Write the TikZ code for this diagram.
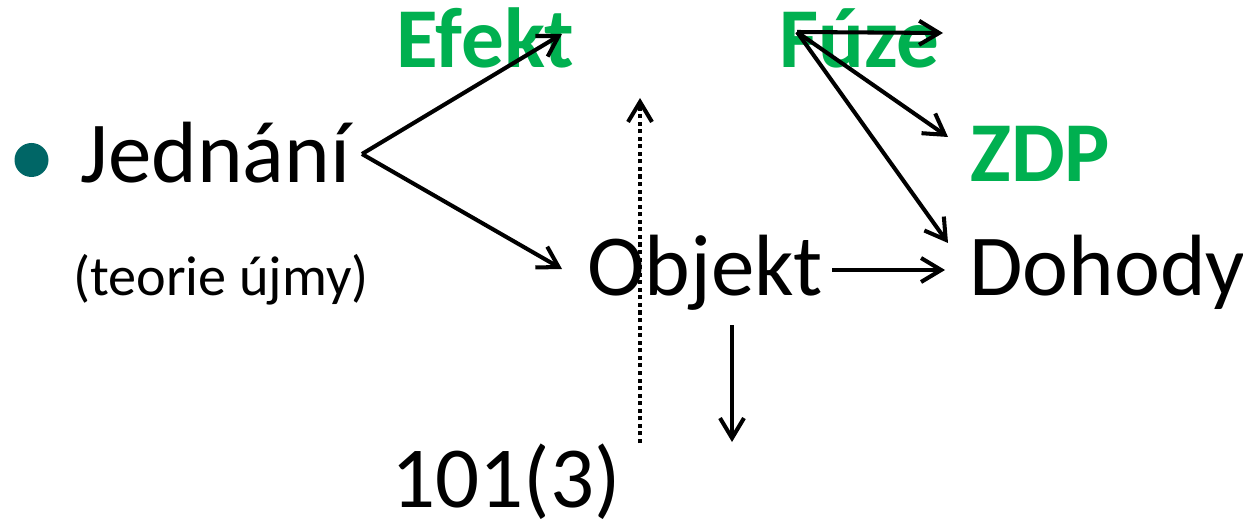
\documentclass[tikz,border=0pt]{standalone}
\usepackage{fontspec}
\setmainfont{Carlito}
\usetikzlibrary{arrows.meta}

\definecolor{bulletteal}{RGB}{0,102,102}
\definecolor{keygreen}{RGB}{0,176,80}

\tikzset{
  word/.style={anchor=base west, inner sep=0pt, font=\fontsize{49.5}{55}\selectfont},
  keyword/.style={anchor=base west, inner sep=0pt, text=keygreen, font=\fontsize{48.5}{55}\selectfont\bfseries},
  note/.style={anchor=base west, inner sep=0pt, font=\fontsize{32}{36}\selectfont},
  arr/.style={line width=2.3pt, -{Straight Barb[length=4mm,width=4.8mm]}}
}

\begin{document}
\begin{tikzpicture}
\useasboundingbox (0,0) rectangle (24.86,10.62);

\fill[bulletteal] (0.63,7.42) circle (0.34);

\node[word] (jednani) at (1.6,6.96) {Jednání};
\node[note] (ujma) at (1.46,4.7) {(teorie újmy)};
\node[keyword] (efekt) at (7.92,9.26) {Efekt};
\node[keyword] (fuze) at (15.58,9.26) {Fúze};
\node[keyword] (zdp) at (19.4,6.98) {ZDP};
\node[word] (objekt) at (11.74,4.7) {Objekt};
\node[word] (dohody) at (19.38,4.7) {Dohody};
\node[word] (paragraf) at (7.82,0.48) {101(3)};

% ends of the arrows
\coordinate (jednani-out) at (7.24,7.54);
\coordinate (efekt-in) at (11.24,9.94);
\coordinate (objekt-in) at (11.24,5.24);
\coordinate (objekt-out) at (16.64,5.22);
\coordinate (dohody-in) at (18.9,5.22);
\coordinate (objekt-down) at (14.64,4.12);
\coordinate (paragraf-in) at (14.64,1.78);
\coordinate (hranice-dole) at (12.8,1.76);
\coordinate (hranice-nahore) at (12.8,8.66);
\coordinate (fuze-out) at (15.94,9.98);
\coordinate (fuze-right) at (18.86,9.96);
\coordinate (zdp-in) at (18.96,7.88);
\coordinate (dohody-top) at (18.96,5.76);

\draw[arr] (jednani-out) -- (efekt-in);
\draw[arr] (jednani-out) -- (objekt-in);
\draw[arr] (objekt-out) -- (dohody-in);
\draw[arr] (objekt-down) -- (paragraf-in);

\draw[arr, dash pattern=on 2.3pt off 2pt]
(hranice-dole) -- (hranice-nahore);

\draw[arr] (fuze-out) -- (fuze-right);
\draw[arr] (fuze-out) -- (zdp-in);
\draw[arr] (fuze-out) -- (dohody-top);

\end{tikzpicture}
\end{document}
